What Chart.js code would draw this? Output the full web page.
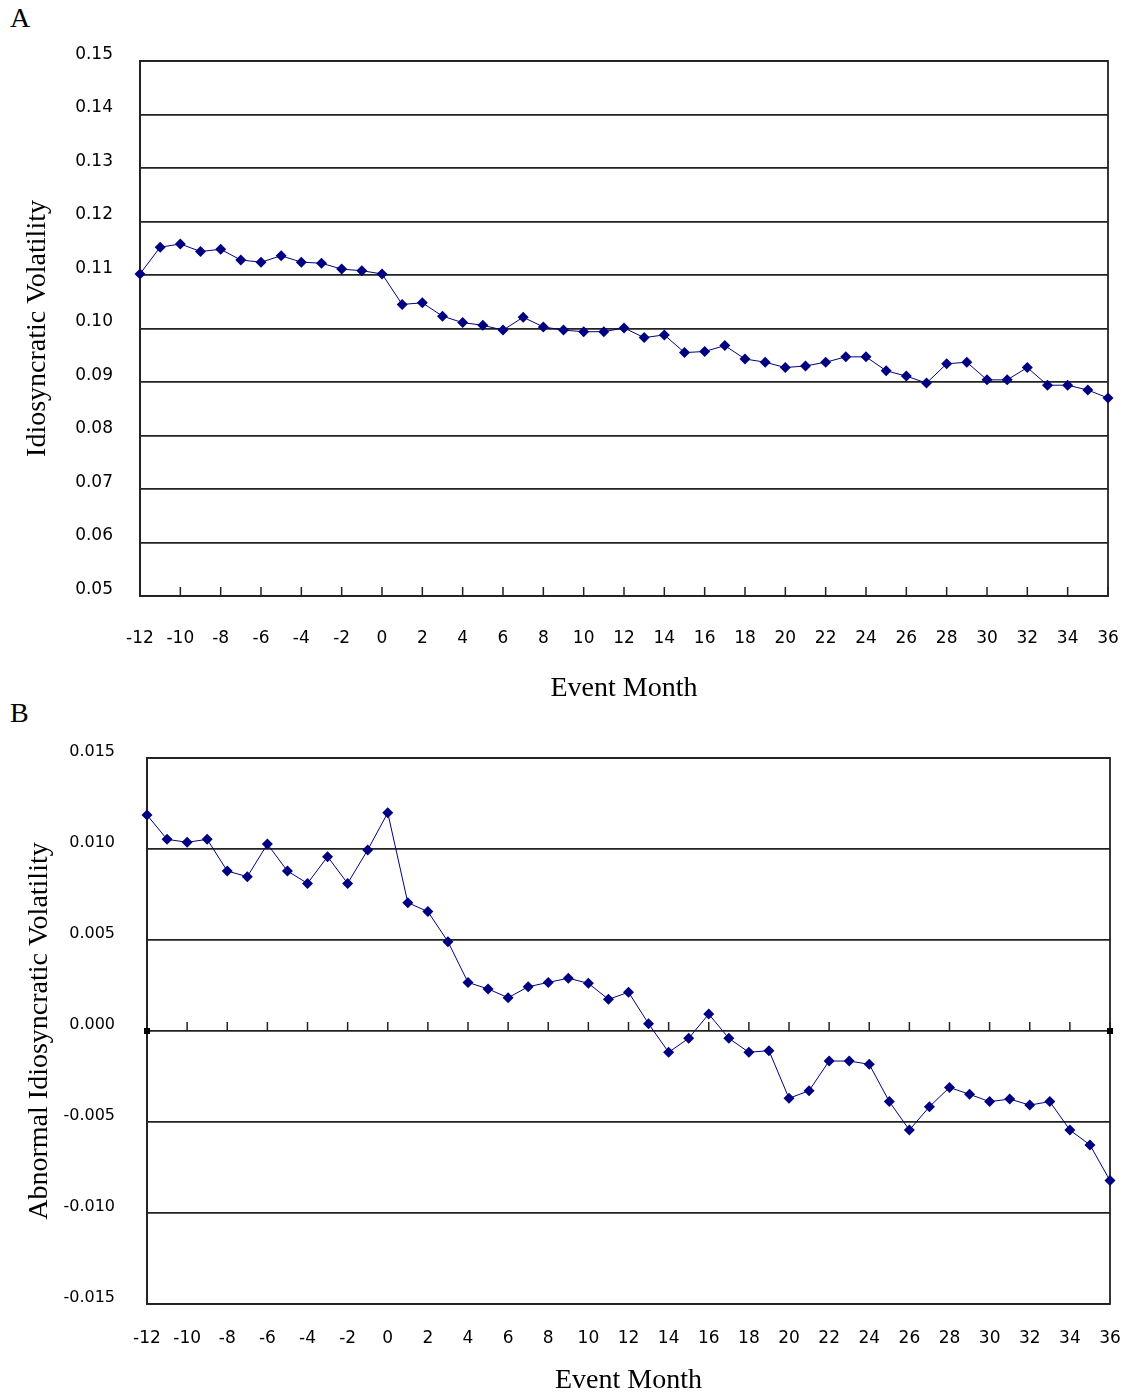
<!DOCTYPE html>
<html>
<head>
<meta charset="utf-8">
<script src="https://cdn.jsdelivr.net/npm/chart.js@4/dist/chart.umd.min.js"></script>
<style>
  body { margin: 0; background: #fff; width: 1124px; height: 1393px; position: relative; overflow: hidden; }
  .panel-label { position: absolute; left: 10px; font-family: "Liberation Serif", serif; font-size: 28px; color: #000; }
  #wrapA { position: absolute; left: 0; top: 0; width: 1124px; height: 705px; }
  #wrapB { position: absolute; left: 0; top: 705px; width: 1124px; height: 692px; }
</style>
</head>
<body>
<div class="panel-label" style="top:2px">A</div>
<div class="panel-label" style="top:697px">B</div>
<div id="wrapA"><canvas id="chartA" width="1124" height="705"></canvas></div>
<div id="wrapB"><canvas id="chartB" width="1124" height="692"></canvas></div>
<script>
var months = [-12, -11, -10, -9, -8, -7, -6, -5, -4, -3, -2, -1, 0,
  1, 2, 3, 4, 5, 6, 7, 8, 9, 10, 11, 12,
  13, 14, 15, 16, 17, 18, 19, 20, 21, 22, 23, 24,
  25, 26, 27, 28, 29, 30, 31, 32, 33, 34, 35, 36];

// Panel A: idiosyncratic volatility
var volA = [0.1102, 0.1152, 0.1158, 0.1144, 0.1148, 0.1128, 0.1124, 0.1136, 0.1124, 0.1122, 0.1111, 0.1108, 0.1102,
  0.1045, 0.1048, 0.1023, 0.1011, 0.1006, 0.0997, 0.1021, 0.1003, 0.0997, 0.0994, 0.0994, 0.1001,
  0.0983, 0.0988, 0.0955, 0.0957, 0.0968, 0.0943, 0.0937, 0.0927, 0.0930, 0.0937, 0.0947, 0.0947,
  0.0921, 0.0911, 0.0898, 0.0934, 0.0937, 0.0904, 0.0904, 0.0927, 0.0894, 0.0894, 0.0885, 0.0870];

// Panel B: abnormal idiosyncratic volatility
var volB = [0.01187, 0.01053, 0.01037, 0.01053, 0.00879, 0.00848, 0.01027, 0.00879, 0.00811, 0.00958, 0.00811, 0.00995, 0.01199,
  0.00705, 0.00656, 0.00491, 0.00267, 0.00231, 0.00183, 0.00243, 0.00267, 0.0029, 0.00262, 0.00174, 0.00213,
  0.0004, -0.00117, -0.0004, 0.00093, -0.0004, -0.00117, -0.00108, -0.0037, -0.00328, -0.00165, -0.00165, -0.00183,
  -0.00388, -0.00544, -0.00416, -0.0031, -0.00348, -0.00388, -0.00374, -0.00407, -0.00388, -0.00544, -0.00626, -0.00822];

var yTicksA = { min: 0.05, max: 0.15, step: 0.01, digits: 2 };
var yTicksB = { min: -0.015, max: 0.015, step: 0.005, digits: 3 };

var gridColor = "#222";
var navy = "#000080";

// frame around plot area + small inward tick marks on the month axis
var frameTicks = {
  id: "frameTicks",
  beforeDatasetsDraw: function (chart, args, opts) {
    var ctx = chart.ctx;
    var a = chart.chartArea;
    var x = chart.scales.x;
    var y = chart.scales.y;
    var base = y.getPixelForValue(opts.axisAt);
    ctx.save();
    ctx.strokeStyle = gridColor;
    ctx.lineWidth = 1.8;
    ctx.strokeRect(a.left, a.top, a.right - a.left, a.bottom - a.top);
    ctx.lineWidth = 1.5;
    ctx.beginPath();
    for (var i = 0; i < months.length; i++) {
      if (months[i] % 2 === 0) {
        var px = x.getPixelForValue(i);
        ctx.moveTo(px, base);
        ctx.lineTo(px, base - 9);
      }
    }
    ctx.stroke();
    if (opts.handles) {
      ctx.fillStyle = "#000";
      ctx.fillRect(a.left - 3, base - 3, 6, 6);
      ctx.fillRect(a.right - 3, base - 3, 6, 6);
    }
    ctx.restore();
  }
};

function makeChart(id, values, yTitle, yt, dims) {
  var ctx = document.getElementById(id).getContext("2d");
  return new Chart(ctx, {
    type: "line",
    data: {
      labels: months,
      datasets: [{
        data: values,
        borderColor: navy,
        borderWidth: 1,
        backgroundColor: navy,
        pointStyle: "rectRot",
        pointRadius: 5.5,
        pointBorderWidth: 0,
        pointBackgroundColor: navy,
        tension: 0,
        clip: false
      }]
    },
    options: {
      responsive: false,
      animation: false,
      layout: { padding: { top: dims.top, right: dims.right, left: 0, bottom: 0 } },
      plugins: {
        legend: { display: false },
        tooltip: { enabled: false },
        frameTicks: { axisAt: dims.axisAt, handles: dims.handles }
      },
      scales: {
        x: {
          type: "category",
          offset: false,
          grid: { display: false, drawTicks: false },
          border: { display: false },
          ticks: {
            autoSkip: false,
            maxRotation: 0,
            padding: dims.xPad,
            color: "#000",
            font: { family: "DejaVu Sans", size: 17 },
            callback: function (v, i) { return months[i] % 2 === 0 ? String(months[i]) : ""; }
          },
          title: {
            display: true,
            text: "Event Month",
            color: "#000",
            padding: 0,
            font: { family: "Liberation Serif", size: 28 }
          },
          afterFit: function (s) {
            s.height = dims.xHeight;
            s.paddingLeft = 0;
            s.paddingRight = 0;
          }
        },
        y: {
          min: yt.min,
          max: yt.max,
          grid: { color: gridColor, lineWidth: 1.8, drawTicks: false },
          border: { display: true, color: gridColor, width: 1.8 },
          ticks: {
            stepSize: yt.step,
            padding: dims.yPad,
            labelOffset: -6.5,
            color: "#000",
            font: { family: "DejaVu Sans", size: dims.yFont },
            callback: function (v) { return v.toFixed(yt.digits); }
          },
          title: {
            display: true,
            text: yTitle,
            color: "#000",
            padding: { top: dims.titlePad, bottom: 0 },
            font: { family: "Liberation Serif", size: 28 }
          },
          afterFit: function (s) {
            s.width = dims.yWidth;
            s.paddingTop = 0;
            s.paddingBottom = 0;
          }
        }
      }
    },
    plugins: [frameTicks]
  });
}

makeChart("chartA", volA, "Idiosyncratic Volatility", yTicksA, {
  top: 61, right: 16, yWidth: 140, xHeight: 109, xPad: 32, yPad: 27, yFont: 17,
  titlePad: 21, axisAt: 0.05, handles: false
});

makeChart("chartB", volB, "Abnormal Idiosyncratic Volatility", yTicksB, {
  top: 53, right: 14, yWidth: 147, xHeight: 93, xPad: 24, yPad: 32, yFont: 16,
  titlePad: 23, axisAt: 0, handles: true
});
</script>
</body>
</html>
